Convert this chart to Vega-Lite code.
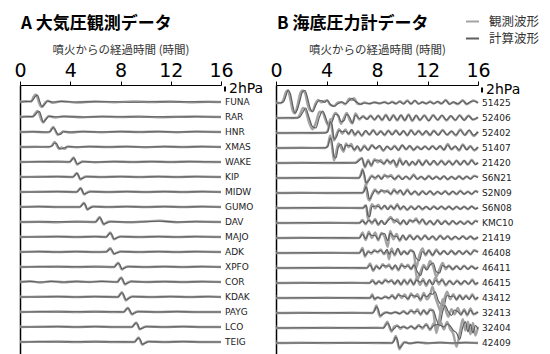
{
"$schema": "https://vega.github.io/schema/vega-lite/v6.json",
"padding": {"left": 13, "top": 14, "right": 5, "bottom": 0},
"config": {"view": {"stroke": null}, "font": "Noto Sans CJK JP"},
"resolve": {"scale": {"color": "shared"}, "legend": {"color": "shared"}},
"spacing": 5,
"datasets": {
"a": [
{"s":"FUNA","t":0,"o":0,"c":0},{"s":"FUNA","t":0.4,"o":0.3,"c":0.1},{"s":"FUNA","t":0.9,"o":0.2,"c":0.3},{"s":"FUNA","t":1.05,"o":1.8,"c":1.0},{"s":"FUNA","t":1.25,"o":3.0,"c":2.4},{"s":"FUNA","t":1.4,"o":1.6,"c":2.8},{"s":"FUNA","t":1.55,"o":-0.8,"c":0.6},{"s":"FUNA","t":1.75,"o":-2.0,"c":-1.8},{"s":"FUNA","t":1.95,"o":-0.6,"c":-1.0},{"s":"FUNA","t":2.2,"o":0.5,"c":0.3},{"s":"FUNA","t":2.6,"o":-0.3,"c":0},{"s":"FUNA","t":3.3,"o":0.3,"c":0.2},{"s":"FUNA","t":4.5,"o":-0.2,"c":0},{"s":"FUNA","t":6,"o":0.2,"c":0.1},{"s":"FUNA","t":7.5,"o":-0.1,"c":0.1},{"s":"FUNA","t":9,"o":0.2,"c":-0.1},{"s":"FUNA","t":10.5,"o":0,"c":0.1},{"s":"FUNA","t":12,"o":0.2,"c":0},{"s":"FUNA","t":13.5,"o":-0.1,"c":0.1},{"s":"FUNA","t":15,"o":0.1,"c":0},{"s":"FUNA","t":16,"o":0,"c":0},
{"s":"RAR","t":0,"o":0,"c":0},{"s":"RAR","t":0.5,"o":0.2,"c":0.1},{"s":"RAR","t":1.0,"o":0.1,"c":0.2},{"s":"RAR","t":1.2,"o":1.4,"c":0.8},{"s":"RAR","t":1.4,"o":2.4,"c":2.0},{"s":"RAR","t":1.55,"o":1.0,"c":2.2},{"s":"RAR","t":1.7,"o":-1.2,"c":0.2},{"s":"RAR","t":1.85,"o":-2.2,"c":-2.0},{"s":"RAR","t":2.05,"o":-0.8,"c":-1.0},{"s":"RAR","t":2.3,"o":0.4,"c":0.2},{"s":"RAR","t":2.8,"o":-0.2,"c":0.1},{"s":"RAR","t":3.5,"o":0.3,"c":0.1},{"s":"RAR","t":5,"o":-0.1,"c":0},{"s":"RAR","t":6.5,"o":0.2,"c":0.1},{"s":"RAR","t":8,"o":0,"c":0.1},{"s":"RAR","t":9.5,"o":0.2,"c":0},{"s":"RAR","t":11,"o":-0.1,"c":0.1},{"s":"RAR","t":12.5,"o":0.1,"c":0},{"s":"RAR","t":14,"o":0.2,"c":0.1},{"s":"RAR","t":16,"o":0,"c":0},
{"s":"HNR","t":0,"o":0,"c":0},{"s":"HNR","t":1,"o":0.1,"c":0.1},{"s":"HNR","t":2,"o":-0.1,"c":0},{"s":"HNR","t":2.35,"o":0,"c":0.1},{"s":"HNR","t":2.5,"o":1.2,"c":0.8},{"s":"HNR","t":2.65,"o":2.0,"c":1.8},{"s":"HNR","t":2.8,"o":0.6,"c":1.0},{"s":"HNR","t":3.0,"o":-1.2,"c":-0.8},{"s":"HNR","t":3.2,"o":-0.6,"c":-1.0},{"s":"HNR","t":3.45,"o":0.2,"c":0.1},{"s":"HNR","t":4,"o":-0.2,"c":0},{"s":"HNR","t":5,"o":0.2,"c":0.1},{"s":"HNR","t":6.5,"o":-0.1,"c":0},{"s":"HNR","t":8,"o":0.2,"c":0.1},{"s":"HNR","t":9.5,"o":0,"c":0},{"s":"HNR","t":11,"o":0.2,"c":0.1},{"s":"HNR","t":12.5,"o":-0.1,"c":0},{"s":"HNR","t":14,"o":0.2,"c":0.1},{"s":"HNR","t":16,"o":0,"c":0},
{"s":"XMAS","t":0,"o":0,"c":0},{"s":"XMAS","t":1.2,"o":0.1,"c":0},{"s":"XMAS","t":2.3,"o":0,"c":0.1},{"s":"XMAS","t":2.55,"o":0.6,"c":0.4},{"s":"XMAS","t":2.75,"o":2.0,"c":1.6},{"s":"XMAS","t":2.9,"o":1.0,"c":1.4},{"s":"XMAS","t":3.1,"o":-0.8,"c":-0.4},{"s":"XMAS","t":3.3,"o":-0.2,"c":-0.8},{"s":"XMAS","t":3.55,"o":-0.7,"c":-0.3},{"s":"XMAS","t":3.8,"o":0.2,"c":0.1},{"s":"XMAS","t":4.5,"o":-0.1,"c":0},{"s":"XMAS","t":5.5,"o":0.2,"c":0.1},{"s":"XMAS","t":7,"o":0,"c":0},{"s":"XMAS","t":8.5,"o":0.2,"c":0.1},{"s":"XMAS","t":10,"o":-0.1,"c":0},{"s":"XMAS","t":11.5,"o":0.2,"c":0.1},{"s":"XMAS","t":13,"o":0,"c":0},{"s":"XMAS","t":14.5,"o":0.2,"c":0.1},{"s":"XMAS","t":16,"o":0,"c":0},
{"s":"WAKE","t":0,"o":0,"c":0},{"s":"WAKE","t":1.5,"o":0.1,"c":0.1},{"s":"WAKE","t":3,"o":0.2,"c":0},{"s":"WAKE","t":3.95,"o":0,"c":0.1},{"s":"WAKE","t":4.12,"o":1.0,"c":0.8},{"s":"WAKE","t":4.27,"o":1.8,"c":1.6},{"s":"WAKE","t":4.4,"o":0.4,"c":0.8},{"s":"WAKE","t":4.55,"o":-1.0,"c":-0.8},{"s":"WAKE","t":4.75,"o":-0.3,"c":-0.5},{"s":"WAKE","t":5.0,"o":0.2,"c":0.1},{"s":"WAKE","t":6,"o":-0.1,"c":0},{"s":"WAKE","t":7.5,"o":0.2,"c":0.1},{"s":"WAKE","t":9,"o":0,"c":0},{"s":"WAKE","t":10.5,"o":0.2,"c":0.1},{"s":"WAKE","t":12,"o":0,"c":0},{"s":"WAKE","t":13.5,"o":0.2,"c":0.1},{"s":"WAKE","t":15,"o":0,"c":0.1},{"s":"WAKE","t":16,"o":0,"c":0},
{"s":"KIP","t":0,"o":0,"c":0},{"s":"KIP","t":1.5,"o":0.1,"c":0},{"s":"KIP","t":3,"o":0.2,"c":0.1},{"s":"KIP","t":4.2,"o":0,"c":0},{"s":"KIP","t":4.38,"o":0.9,"c":0.7},{"s":"KIP","t":4.53,"o":1.6,"c":1.5},{"s":"KIP","t":4.66,"o":0.4,"c":0.7},{"s":"KIP","t":4.8,"o":-1.0,"c":-0.8},{"s":"KIP","t":5.0,"o":-0.3,"c":-0.5},{"s":"KIP","t":5.3,"o":0.2,"c":0.1},{"s":"KIP","t":6.5,"o":0,"c":0},{"s":"KIP","t":8,"o":0.2,"c":0.1},{"s":"KIP","t":9.5,"o":0,"c":0},{"s":"KIP","t":11,"o":0.2,"c":0.1},{"s":"KIP","t":12.5,"o":0,"c":0},{"s":"KIP","t":14,"o":0.2,"c":0.1},{"s":"KIP","t":16,"o":0,"c":0},
{"s":"MIDW","t":0,"o":0,"c":0},{"s":"MIDW","t":1.5,"o":0.1,"c":0},{"s":"MIDW","t":3,"o":0.2,"c":0.1},{"s":"MIDW","t":4.5,"o":0,"c":0},{"s":"MIDW","t":4.68,"o":0.9,"c":0.7},{"s":"MIDW","t":4.83,"o":1.6,"c":1.5},{"s":"MIDW","t":4.95,"o":0.4,"c":0.7},{"s":"MIDW","t":5.1,"o":-1.0,"c":-0.8},{"s":"MIDW","t":5.3,"o":-0.3,"c":-0.5},{"s":"MIDW","t":5.6,"o":0.2,"c":0.1},{"s":"MIDW","t":7,"o":0,"c":0},{"s":"MIDW","t":8.5,"o":0.2,"c":0.1},{"s":"MIDW","t":10,"o":0,"c":0},{"s":"MIDW","t":11.5,"o":0.2,"c":0.1},{"s":"MIDW","t":13,"o":0,"c":0},{"s":"MIDW","t":14.5,"o":0.2,"c":0.1},{"s":"MIDW","t":16,"o":0,"c":0},
{"s":"GUMO","t":0,"o":0,"c":0},{"s":"GUMO","t":1.5,"o":0.2,"c":0.1},{"s":"GUMO","t":3,"o":0,"c":0},{"s":"GUMO","t":4.75,"o":0,"c":0},{"s":"GUMO","t":4.93,"o":0.9,"c":0.7},{"s":"GUMO","t":5.09,"o":1.7,"c":1.5},{"s":"GUMO","t":5.22,"o":0.4,"c":0.8},{"s":"GUMO","t":5.36,"o":-1.1,"c":-0.9},{"s":"GUMO","t":5.55,"o":-0.3,"c":-0.5},{"s":"GUMO","t":5.85,"o":0.2,"c":0.1},{"s":"GUMO","t":7,"o":0,"c":0},{"s":"GUMO","t":8.5,"o":0.2,"c":0.1},{"s":"GUMO","t":10,"o":0,"c":0},{"s":"GUMO","t":11.5,"o":0.2,"c":0.1},{"s":"GUMO","t":13,"o":0,"c":0},{"s":"GUMO","t":14.5,"o":0.2,"c":0.1},{"s":"GUMO","t":16,"o":0,"c":0},
{"s":"DAV","t":0,"o":0,"c":0},{"s":"DAV","t":1.5,"o":0.1,"c":0},{"s":"DAV","t":3,"o":-0.1,"c":0.1},{"s":"DAV","t":4.5,"o":0.2,"c":0},{"s":"DAV","t":6,"o":0,"c":0},{"s":"DAV","t":6.2,"o":1.2,"c":0.9},{"s":"DAV","t":6.34,"o":2.0,"c":1.8},{"s":"DAV","t":6.5,"o":0.4,"c":0.8},{"s":"DAV","t":6.66,"o":-1.0,"c":-0.8},{"s":"DAV","t":6.85,"o":-0.3,"c":-0.5},{"s":"DAV","t":7.2,"o":0.2,"c":0.1},{"s":"DAV","t":8.5,"o":-0.1,"c":0},{"s":"DAV","t":10,"o":0.2,"c":0.1},{"s":"DAV","t":11.1,"o":0.5,"c":0.3},{"s":"DAV","t":12.5,"o":-0.1,"c":0},{"s":"DAV","t":14,"o":0.2,"c":0.1},{"s":"DAV","t":16,"o":0,"c":0},
{"s":"MAJO","t":0,"o":0,"c":0},{"s":"MAJO","t":1.5,"o":0.1,"c":0},{"s":"MAJO","t":3,"o":0.2,"c":0.1},{"s":"MAJO","t":4.5,"o":0,"c":0},{"s":"MAJO","t":6,"o":0.2,"c":0.1},{"s":"MAJO","t":6.85,"o":0,"c":0},{"s":"MAJO","t":7.03,"o":1.0,"c":0.8},{"s":"MAJO","t":7.19,"o":1.8,"c":1.6},{"s":"MAJO","t":7.33,"o":0.4,"c":0.8},{"s":"MAJO","t":7.48,"o":-0.9,"c":-0.8},{"s":"MAJO","t":7.7,"o":-0.3,"c":-0.4},{"s":"MAJO","t":8,"o":0.2,"c":0.1},{"s":"MAJO","t":9.5,"o":0,"c":0},{"s":"MAJO","t":11,"o":0.2,"c":0.1},{"s":"MAJO","t":12.5,"o":0,"c":0},{"s":"MAJO","t":14,"o":0.2,"c":0.1},{"s":"MAJO","t":16,"o":0,"c":0},
{"s":"ADK","t":0,"o":0,"c":0},{"s":"ADK","t":1.5,"o":0.2,"c":0.1},{"s":"ADK","t":3,"o":0,"c":0},{"s":"ADK","t":4.5,"o":0.2,"c":0.1},{"s":"ADK","t":6,"o":0,"c":0},{"s":"ADK","t":6.85,"o":0.1,"c":0},{"s":"ADK","t":7.03,"o":0.9,"c":0.6},{"s":"ADK","t":7.19,"o":1.5,"c":1.3},{"s":"ADK","t":7.33,"o":0.3,"c":0.7},{"s":"ADK","t":7.48,"o":-0.8,"c":-0.7},{"s":"ADK","t":7.7,"o":-0.3,"c":-0.4},{"s":"ADK","t":8,"o":0.2,"c":0.1},{"s":"ADK","t":9.5,"o":0,"c":0},{"s":"ADK","t":11,"o":0.2,"c":0.1},{"s":"ADK","t":12.5,"o":0,"c":0},{"s":"ADK","t":14,"o":0.2,"c":0.1},{"s":"ADK","t":16,"o":0,"c":0},
{"s":"XPFO","t":0,"o":0,"c":0},{"s":"XPFO","t":1.5,"o":0.1,"c":0.1},{"s":"XPFO","t":3,"o":0.2,"c":0},{"s":"XPFO","t":4.5,"o":0,"c":0.1},{"s":"XPFO","t":6,"o":0.2,"c":0},{"s":"XPFO","t":7.5,"o":0,"c":0},{"s":"XPFO","t":7.66,"o":1.0,"c":0.8},{"s":"XPFO","t":7.82,"o":1.7,"c":1.5},{"s":"XPFO","t":7.96,"o":0.4,"c":0.8},{"s":"XPFO","t":8.11,"o":-1.0,"c":-0.8},{"s":"XPFO","t":8.3,"o":-0.3,"c":-0.5},{"s":"XPFO","t":8.6,"o":0.2,"c":0.1},{"s":"XPFO","t":10,"o":0,"c":0},{"s":"XPFO","t":11.5,"o":0.2,"c":0.1},{"s":"XPFO","t":13,"o":0,"c":0},{"s":"XPFO","t":14.5,"o":0.2,"c":0.1},{"s":"XPFO","t":16,"o":0,"c":0},
{"s":"COR","t":0,"o":0,"c":0},{"s":"COR","t":0.8,"o":0.3,"c":0.2},{"s":"COR","t":1.6,"o":-0.2,"c":0},{"s":"COR","t":2.5,"o":0.3,"c":0.2},{"s":"COR","t":3.5,"o":-0.1,"c":0},{"s":"COR","t":4.5,"o":0.3,"c":0.1},{"s":"COR","t":5.5,"o":0,"c":0},{"s":"COR","t":6.5,"o":0.3,"c":0.2},{"s":"COR","t":7.75,"o":0,"c":0},{"s":"COR","t":7.9,"o":1.0,"c":0.8},{"s":"COR","t":8.06,"o":1.8,"c":1.6},{"s":"COR","t":8.2,"o":0.4,"c":0.8},{"s":"COR","t":8.35,"o":-1.0,"c":-0.8},{"s":"COR","t":8.55,"o":-0.3,"c":-0.5},{"s":"COR","t":8.85,"o":0.3,"c":0.1},{"s":"COR","t":10,"o":0,"c":0},{"s":"COR","t":11.5,"o":0.2,"c":0.1},{"s":"COR","t":13,"o":0,"c":0},{"s":"COR","t":14.5,"o":0.2,"c":0.1},{"s":"COR","t":16,"o":0,"c":0},
{"s":"KDAK","t":0,"o":0,"c":0},{"s":"KDAK","t":1.5,"o":0.1,"c":0},{"s":"KDAK","t":3,"o":0.2,"c":0.1},{"s":"KDAK","t":4.5,"o":0,"c":0},{"s":"KDAK","t":6,"o":0.2,"c":0.1},{"s":"KDAK","t":7.8,"o":0,"c":0},{"s":"KDAK","t":7.95,"o":1.0,"c":0.8},{"s":"KDAK","t":8.11,"o":1.9,"c":1.7},{"s":"KDAK","t":8.25,"o":0.5,"c":0.9},{"s":"KDAK","t":8.43,"o":-1.4,"c":-1.1},{"s":"KDAK","t":8.65,"o":-0.4,"c":-0.6},{"s":"KDAK","t":8.95,"o":0.2,"c":0.1},{"s":"KDAK","t":10.5,"o":0,"c":0},{"s":"KDAK","t":12,"o":0.2,"c":0.1},{"s":"KDAK","t":13.5,"o":0,"c":0},{"s":"KDAK","t":15,"o":0.2,"c":0.1},{"s":"KDAK","t":16,"o":0,"c":0},
{"s":"PAYG","t":0,"o":0,"c":0},{"s":"PAYG","t":1.5,"o":0.1,"c":0.1},{"s":"PAYG","t":3,"o":0.2,"c":0},{"s":"PAYG","t":4.5,"o":0,"c":0.1},{"s":"PAYG","t":6,"o":0.2,"c":0},{"s":"PAYG","t":7.5,"o":0,"c":0.1},{"s":"PAYG","t":8.25,"o":0,"c":0},{"s":"PAYG","t":8.43,"o":1.0,"c":0.8},{"s":"PAYG","t":8.59,"o":1.7,"c":1.5},{"s":"PAYG","t":8.73,"o":0.4,"c":0.8},{"s":"PAYG","t":8.91,"o":-1.0,"c":-0.8},{"s":"PAYG","t":9.1,"o":-0.3,"c":-0.5},{"s":"PAYG","t":9.4,"o":0.2,"c":0.1},{"s":"PAYG","t":11,"o":0,"c":0},{"s":"PAYG","t":12.5,"o":0.2,"c":0.1},{"s":"PAYG","t":14,"o":0,"c":0},{"s":"PAYG","t":16,"o":0,"c":0},
{"s":"LCO","t":0,"o":0,"c":0},{"s":"LCO","t":1.5,"o":0.1,"c":0},{"s":"LCO","t":3,"o":0.2,"c":0.1},{"s":"LCO","t":4.5,"o":0,"c":0},{"s":"LCO","t":6,"o":0.2,"c":0.1},{"s":"LCO","t":7.5,"o":0,"c":0},{"s":"LCO","t":8.9,"o":0,"c":0},{"s":"LCO","t":9.08,"o":1.0,"c":0.8},{"s":"LCO","t":9.25,"o":1.8,"c":1.6},{"s":"LCO","t":9.38,"o":0.6,"c":1.0},{"s":"LCO","t":9.52,"o":-0.9,"c":-0.8},{"s":"LCO","t":9.75,"o":-0.3,"c":-0.5},{"s":"LCO","t":10.05,"o":0.2,"c":0.1},{"s":"LCO","t":11.5,"o":0,"c":0},{"s":"LCO","t":13,"o":0.2,"c":0.1},{"s":"LCO","t":14.5,"o":0,"c":0},{"s":"LCO","t":16,"o":0,"c":0},
{"s":"TEIG","t":0,"o":0,"c":0},{"s":"TEIG","t":1.5,"o":0.1,"c":0.1},{"s":"TEIG","t":3,"o":0.2,"c":0},{"s":"TEIG","t":4.5,"o":0,"c":0.1},{"s":"TEIG","t":6,"o":0.2,"c":0},{"s":"TEIG","t":7.5,"o":0,"c":0.1},{"s":"TEIG","t":9.1,"o":0,"c":0},{"s":"TEIG","t":9.28,"o":1.0,"c":0.8},{"s":"TEIG","t":9.44,"o":1.8,"c":1.6},{"s":"TEIG","t":9.57,"o":0.6,"c":1.0},{"s":"TEIG","t":9.73,"o":-1.1,"c":-0.9},{"s":"TEIG","t":9.95,"o":-0.3,"c":-0.5},{"s":"TEIG","t":10.25,"o":0.2,"c":0.1},{"s":"TEIG","t":11.5,"o":0,"c":0},{"s":"TEIG","t":13,"o":0.2,"c":0.1},{"s":"TEIG","t":14.5,"o":0,"c":0},{"s":"TEIG","t":16,"o":0,"c":0},
{"s":"_"}
],
"b": [
{"s":"51425","t":0,"o":0,"c":0},{"s":"51425","t":0.4,"o":0,"c":0.1},{"s":"51425","t":0.6,"o":1.5,"c":0.5},{"s":"51425","t":0.8,"o":4.5,"c":3.0},{"s":"51425","t":0.95,"o":5.0,"c":5.2},{"s":"51425","t":1.15,"o":1.0,"c":3.5},{"s":"51425","t":1.35,"o":-3.5,"c":-1.5},{"s":"51425","t":1.5,"o":-4.2,"c":-4.0},{"s":"51425","t":1.7,"o":-1.0,"c":-2.5},{"s":"51425","t":1.9,"o":3.5,"c":1.0},{"s":"51425","t":2.1,"o":5.0,"c":4.5},{"s":"51425","t":2.3,"o":4.0,"c":5.0},{"s":"51425","t":2.5,"o":-0.5,"c":2.0},{"s":"51425","t":2.7,"o":-3.0,"c":-2.0},{"s":"51425","t":2.9,"o":-3.2,"c":-3.5},{"s":"51425","t":3.1,"o":-0.5,"c":-1.5},{"s":"51425","t":3.35,"o":1.2,"c":0.8},{"s":"51425","t":3.6,"o":0.3,"c":1.0},{"s":"51425","t":3.85,"o":0.8,"c":0.2},{"s":"51425","t":4.05,"o":1.0,"c":1.2},{"s":"51425","t":4.3,"o":-0.8,"c":-0.5},{"s":"51425","t":4.6,"o":-1.2,"c":-1.3},{"s":"51425","t":4.9,"o":0.2,"c":-0.3},{"s":"51425","t":5.2,"o":0.3,"c":0.4},{"s":"51425","t":5.5,"o":-0.5,"c":-0.3},{"s":"51425","t":5.8,"o":1.8,"c":1.0},{"s":"51425","t":6.0,"o":1.2,"c":1.9},{"s":"51425","t":6.2,"o":1.9,"c":1.0},{"s":"51425","t":6.45,"o":-0.3,"c":0.2},{"s":"51425","t":6.7,"o":-0.4,"c":-0.5},{"s":"51425","t":7.0,"o":0.2,"c":0},{"s":"51425","t":7.4,"o":-0.3,"c":-0.2},{"s":"51425","t":7.8,"o":0.3,"c":0.2},{"s":"51425","t":8.2,"o":-0.2,"c":-0.1},{"s":"51425","t":8.6,"o":0.4,"c":0.3},{"s":"51425","t":8.9,"o":-0.2,"c":-0.3},{"s":"51425","t":9.2,"o":0.5,"c":0.3},{"s":"51425","t":9.5,"o":-0.3,"c":-0.2},{"s":"51425","t":9.8,"o":0.7,"c":0.5},{"s":"51425","t":10.1,"o":-0.2,"c":-0.4},{"s":"51425","t":10.4,"o":1.0,"c":0.8},{"s":"51425","t":10.7,"o":-0.4,"c":-0.3},{"s":"51425","t":11.0,"o":0.9,"c":1.0},{"s":"51425","t":11.3,"o":-0.3,"c":-0.4},{"s":"51425","t":11.6,"o":0.4,"c":0.3},{"s":"51425","t":11.9,"o":-0.3,"c":-0.2},{"s":"51425","t":12.2,"o":0.6,"c":0.4},{"s":"51425","t":12.5,"o":-0.2,"c":-0.3},{"s":"51425","t":12.8,"o":0.5,"c":0.6},{"s":"51425","t":13.1,"o":-0.3,"c":-0.2},{"s":"51425","t":13.45,"o":1.2,"c":1.0},{"s":"51425","t":13.75,"o":-0.4,"c":-0.5},{"s":"51425","t":14.05,"o":0.3,"c":0.4},{"s":"51425","t":14.4,"o":-0.5,"c":-0.3},{"s":"51425","t":14.8,"o":1.1,"c":0.9},{"s":"51425","t":15.1,"o":-0.5,"c":-0.4},{"s":"51425","t":15.4,"o":0.3,"c":0.5},{"s":"51425","t":15.65,"o":1.0,"c":0.8},{"s":"51425","t":16,"o":0,"c":0.1},
{"s":"52406","t":0,"o":0,"c":0},{"s":"52406","t":1.0,"o":0,"c":0.1},{"s":"52406","t":1.7,"o":0.1,"c":0},{"s":"52406","t":1.9,"o":1.5,"c":0.5},{"s":"52406","t":2.15,"o":4.0,"c":2.5},{"s":"52406","t":2.35,"o":3.0,"c":4.0},{"s":"52406","t":2.6,"o":-1.5,"c":0.5},{"s":"52406","t":2.9,"o":-4.5,"c":-3.5},{"s":"52406","t":3.15,"o":-2.0,"c":-4.0},{"s":"52406","t":3.45,"o":2.5,"c":0.5},{"s":"52406","t":3.7,"o":2.2,"c":2.8},{"s":"52406","t":3.9,"o":-0.5,"c":0.8},{"s":"52406","t":4.15,"o":-3.0,"c":-2.5},{"s":"52406","t":4.4,"o":-1.0,"c":-2.0},{"s":"52406","t":4.7,"o":2.0,"c":1.5},{"s":"52406","t":4.95,"o":0.5,"c":1.0},{"s":"52406","t":5.15,"o":-2.3,"c":-1.5},{"s":"52406","t":5.4,"o":0.3,"c":-1.0},{"s":"52406","t":5.6,"o":2.0,"c":1.5},{"s":"52406","t":5.85,"o":-1.0,"c":0.2},{"s":"52406","t":6.05,"o":-2.2,"c":-2.0},{"s":"52406","t":6.3,"o":1.8,"c":1.2},{"s":"52406","t":6.6,"o":-0.6,"c":-0.2},{"s":"52406","t":6.9,"o":0.8,"c":0.5},{"s":"52406","t":7.2,"o":-0.4,"c":-0.5},{"s":"52406","t":7.5,"o":1.0,"c":0.8},{"s":"52406","t":7.8,"o":-0.8,"c":-0.6},{"s":"52406","t":8.1,"o":1.0,"c":0.9},{"s":"52406","t":8.4,"o":-0.9,"c":-0.7},{"s":"52406","t":8.7,"o":1.3,"c":1.1},{"s":"52406","t":9.0,"o":-0.9,"c":-1.0},{"s":"52406","t":9.3,"o":1.2,"c":1.0},{"s":"52406","t":9.6,"o":-1.0,"c":-0.8},{"s":"52406","t":9.9,"o":1.1,"c":1.2},{"s":"52406","t":10.2,"o":-1.0,"c":-0.9},{"s":"52406","t":10.5,"o":1.4,"c":1.2},{"s":"52406","t":10.8,"o":-1.2,"c":-1.0},{"s":"52406","t":11.1,"o":1.0,"c":1.1},{"s":"52406","t":11.4,"o":-0.9,"c":-0.8},{"s":"52406","t":11.75,"o":1.1,"c":0.9},{"s":"52406","t":12.1,"o":-1.0,"c":-1.1},{"s":"52406","t":12.45,"o":1.2,"c":1.0},{"s":"52406","t":12.8,"o":-0.8,"c":-0.7},{"s":"52406","t":13.15,"o":1.0,"c":1.1},{"s":"52406","t":13.5,"o":-1.0,"c":-0.8},{"s":"52406","t":13.85,"o":0.8,"c":0.9},{"s":"52406","t":14.2,"o":-0.9,"c":-0.8},{"s":"52406","t":14.55,"o":1.1,"c":1.0},{"s":"52406","t":14.9,"o":-0.8,"c":-0.9},{"s":"52406","t":15.25,"o":1.0,"c":0.8},{"s":"52406","t":15.6,"o":-0.7,"c":-0.6},{"s":"52406","t":16,"o":0.3,"c":0.2},
{"s":"52402","t":0,"o":0,"c":0},{"s":"52402","t":2,"o":0,"c":0.1},{"s":"52402","t":3.9,"o":0.1,"c":0},{"s":"52402","t":4.1,"o":1.0,"c":0.5},{"s":"52402","t":4.3,"o":5.5,"c":4.5},{"s":"52402","t":4.45,"o":1.0,"c":3.0},{"s":"52402","t":4.6,"o":-3.0,"c":-2.5},{"s":"52402","t":4.8,"o":-0.5,"c":-1.5},{"s":"52402","t":5.0,"o":1.5,"c":1.0},{"s":"52402","t":5.25,"o":-0.3,"c":0.5},{"s":"52402","t":5.5,"o":1.4,"c":0.8},{"s":"52402","t":5.75,"o":-0.5,"c":-0.3},{"s":"52402","t":6.0,"o":1.2,"c":1.4},{"s":"52402","t":6.25,"o":-1.0,"c":-0.6},{"s":"52402","t":6.5,"o":0.8,"c":0.5},{"s":"52402","t":6.8,"o":-1.2,"c":-0.9},{"s":"52402","t":7.1,"o":0.8,"c":1.0},{"s":"52402","t":7.4,"o":-0.7,"c":-0.6},{"s":"52402","t":7.7,"o":1.2,"c":1.0},{"s":"52402","t":8.0,"o":-0.6,"c":-0.8},{"s":"52402","t":8.3,"o":0.8,"c":0.6},{"s":"52402","t":8.6,"o":-0.9,"c":-0.7},{"s":"52402","t":8.9,"o":1.0,"c":0.9},{"s":"52402","t":9.2,"o":-0.6,"c":-0.7},{"s":"52402","t":9.5,"o":1.1,"c":0.9},{"s":"52402","t":9.8,"o":-0.7,"c":-0.8},{"s":"52402","t":10.1,"o":0.8,"c":0.9},{"s":"52402","t":10.4,"o":-1.0,"c":-0.9},{"s":"52402","t":10.7,"o":1.2,"c":1.0},{"s":"52402","t":11.0,"o":-0.6,"c":-0.8},{"s":"52402","t":11.3,"o":0.9,"c":0.8},{"s":"52402","t":11.6,"o":-0.8,"c":-0.6},{"s":"52402","t":11.9,"o":0.7,"c":0.9},{"s":"52402","t":12.2,"o":-0.9,"c":-0.8},{"s":"52402","t":12.5,"o":1.0,"c":0.8},{"s":"52402","t":12.85,"o":-0.7,"c":-0.9},{"s":"52402","t":13.2,"o":1.2,"c":1.0},{"s":"52402","t":13.55,"o":-0.8,"c":-0.7},{"s":"52402","t":13.9,"o":0.6,"c":0.8},{"s":"52402","t":14.25,"o":-1.0,"c":-0.8},{"s":"52402","t":14.6,"o":1.4,"c":1.1},{"s":"52402","t":14.95,"o":-0.8,"c":-0.9},{"s":"52402","t":15.3,"o":1.0,"c":1.2},{"s":"52402","t":15.65,"o":-1.2,"c":-0.9},{"s":"52402","t":16,"o":0.6,"c":0.4},
{"s":"51407","t":0,"o":0,"c":0},{"s":"51407","t":2,"o":0.1,"c":0},{"s":"51407","t":3.9,"o":0,"c":0.1},{"s":"51407","t":4.1,"o":1.0,"c":0.6},{"s":"51407","t":4.3,"o":5.0,"c":4.0},{"s":"51407","t":4.45,"o":0,"c":2.0},{"s":"51407","t":4.6,"o":-5.0,"c":-3.5},{"s":"51407","t":4.75,"o":-2.0,"c":-4.0},{"s":"51407","t":4.95,"o":1.8,"c":0.5},{"s":"51407","t":5.15,"o":0.2,"c":1.5},{"s":"51407","t":5.35,"o":-1.5,"c":-0.8},{"s":"51407","t":5.55,"o":1.8,"c":1.2},{"s":"51407","t":5.75,"o":0.3,"c":1.0},{"s":"51407","t":5.95,"o":1.6,"c":0.8},{"s":"51407","t":6.2,"o":-1.0,"c":-0.6},{"s":"51407","t":6.45,"o":0.5,"c":0.9},{"s":"51407","t":6.7,"o":-1.2,"c":-1.0},{"s":"51407","t":7.0,"o":1.0,"c":0.6},{"s":"51407","t":7.3,"o":-0.8,"c":-0.9},{"s":"51407","t":7.6,"o":1.2,"c":1.0},{"s":"51407","t":7.9,"o":-0.3,"c":-0.2},{"s":"51407","t":8.2,"o":0.8,"c":1.0},{"s":"51407","t":8.5,"o":-1.2,"c":-0.9},{"s":"51407","t":8.8,"o":0.6,"c":0.7},{"s":"51407","t":9.1,"o":-0.5,"c":-0.7},{"s":"51407","t":9.4,"o":0.9,"c":0.6},{"s":"51407","t":9.7,"o":-0.8,"c":-0.9},{"s":"51407","t":10.0,"o":1.1,"c":1.2},{"s":"51407","t":10.3,"o":-0.6,"c":-0.5},{"s":"51407","t":10.6,"o":0.8,"c":0.9},{"s":"51407","t":10.9,"o":-0.9,"c":-0.7},{"s":"51407","t":11.2,"o":0.6,"c":0.5},{"s":"51407","t":11.5,"o":-0.5,"c":-0.6},{"s":"51407","t":11.8,"o":0.7,"c":0.6},{"s":"51407","t":12.1,"o":-0.6,"c":-0.5},{"s":"51407","t":12.4,"o":0.8,"c":0.7},{"s":"51407","t":12.7,"o":-0.5,"c":-0.6},{"s":"51407","t":13.0,"o":0.7,"c":0.9},{"s":"51407","t":13.3,"o":-0.8,"c":-0.7},{"s":"51407","t":13.6,"o":1.6,"c":1.2},{"s":"51407","t":13.9,"o":-0.6,"c":-0.5},{"s":"51407","t":14.2,"o":0.6,"c":0.8},{"s":"51407","t":14.5,"o":-1.0,"c":-0.8},{"s":"51407","t":14.8,"o":1.4,"c":1.2},{"s":"51407","t":15.1,"o":-0.6,"c":-0.7},{"s":"51407","t":15.4,"o":0.8,"c":0.6},{"s":"51407","t":15.7,"o":-1.0,"c":-0.8},{"s":"51407","t":16,"o":0.4,"c":0.3},
{"s":"21420","t":0,"o":0,"c":0},{"s":"21420","t":2,"o":0.1,"c":0},{"s":"21420","t":4,"o":0,"c":0.1},{"s":"21420","t":6.3,"o":0.1,"c":0},{"s":"21420","t":6.55,"o":1.2,"c":0.8},{"s":"21420","t":6.8,"o":2.0,"c":1.8},{"s":"21420","t":7.05,"o":-1.8,"c":-1.4},{"s":"21420","t":7.3,"o":1.2,"c":0.8},{"s":"21420","t":7.55,"o":-1.2,"c":-0.8},{"s":"21420","t":7.8,"o":1.5,"c":1.0},{"s":"21420","t":8.05,"o":0.3,"c":1.2},{"s":"21420","t":8.3,"o":1.2,"c":0.4},{"s":"21420","t":8.55,"o":-0.5,"c":-0.2},{"s":"21420","t":8.8,"o":1.4,"c":1.1},{"s":"21420","t":9.05,"o":-0.3,"c":0.2},{"s":"21420","t":9.3,"o":1.0,"c":1.2},{"s":"21420","t":9.55,"o":-1.5,"c":-1.0},{"s":"21420","t":9.8,"o":1.8,"c":1.2},{"s":"21420","t":10.05,"o":-0.6,"c":-0.8},{"s":"21420","t":10.3,"o":0.8,"c":1.0},{"s":"21420","t":10.55,"o":-1.0,"c":-0.8},{"s":"21420","t":10.8,"o":0.5,"c":0.6},{"s":"21420","t":11.05,"o":-0.8,"c":-0.6},{"s":"21420","t":11.3,"o":1.2,"c":0.9},{"s":"21420","t":11.6,"o":-0.9,"c":-0.8},{"s":"21420","t":11.9,"o":1.1,"c":0.9},{"s":"21420","t":12.2,"o":-0.7,"c":-0.8},{"s":"21420","t":12.5,"o":0.8,"c":1.0},{"s":"21420","t":12.8,"o":-0.8,"c":-0.6},{"s":"21420","t":13.1,"o":1.0,"c":0.8},{"s":"21420","t":13.4,"o":-0.6,"c":-0.8},{"s":"21420","t":13.7,"o":0.9,"c":0.7},{"s":"21420","t":14.0,"o":-0.8,"c":-0.6},{"s":"21420","t":14.3,"o":1.0,"c":0.9},{"s":"21420","t":14.6,"o":-0.6,"c":-0.8},{"s":"21420","t":14.9,"o":0.9,"c":1.0},{"s":"21420","t":15.2,"o":-0.7,"c":-0.6},{"s":"21420","t":15.5,"o":1.3,"c":1.0},{"s":"21420","t":15.8,"o":-0.5,"c":-0.6},{"s":"21420","t":16,"o":0.2,"c":0.1},
{"s":"S6N21","t":0,"o":0,"c":0},{"s":"S6N21","t":2,"o":0,"c":0.1},{"s":"S6N21","t":4,"o":0.1,"c":0},{"s":"S6N21","t":6.55,"o":0,"c":0},{"s":"S6N21","t":6.72,"o":1.5,"c":1.0},{"s":"S6N21","t":6.85,"o":3.5,"c":3.2},{"s":"S6N21","t":7.0,"o":0.5,"c":1.5},{"s":"S6N21","t":7.15,"o":-2.5,"c":-2.0},{"s":"S6N21","t":7.35,"o":-0.5,"c":-1.0},{"s":"S6N21","t":7.6,"o":1.0,"c":0.6},{"s":"S6N21","t":7.85,"o":-0.4,"c":0.2},{"s":"S6N21","t":8.1,"o":1.0,"c":0.9},{"s":"S6N21","t":8.35,"o":-0.3,"c":-0.5},{"s":"S6N21","t":8.6,"o":1.3,"c":0.8},{"s":"S6N21","t":8.85,"o":0.2,"c":0.8},{"s":"S6N21","t":9.1,"o":1.2,"c":0.6},{"s":"S6N21","t":9.4,"o":-0.6,"c":-0.4},{"s":"S6N21","t":9.7,"o":1.0,"c":0.8},{"s":"S6N21","t":10.0,"o":-0.4,"c":-0.6},{"s":"S6N21","t":10.3,"o":0.6,"c":0.7},{"s":"S6N21","t":10.6,"o":-0.5,"c":-0.4},{"s":"S6N21","t":10.9,"o":1.4,"c":1.0},{"s":"S6N21","t":11.2,"o":-0.4,"c":-0.5},{"s":"S6N21","t":11.5,"o":0.5,"c":0.6},{"s":"S6N21","t":11.8,"o":-0.6,"c":-0.5},{"s":"S6N21","t":12.1,"o":0.9,"c":0.7},{"s":"S6N21","t":12.4,"o":-0.4,"c":-0.5},{"s":"S6N21","t":12.7,"o":0.6,"c":0.5},{"s":"S6N21","t":13.0,"o":-0.5,"c":-0.4},{"s":"S6N21","t":13.3,"o":0.7,"c":0.8},{"s":"S6N21","t":13.6,"o":-0.6,"c":-0.5},{"s":"S6N21","t":13.9,"o":0.5,"c":0.6},{"s":"S6N21","t":14.2,"o":-0.4,"c":-0.5},{"s":"S6N21","t":14.5,"o":0.8,"c":0.6},{"s":"S6N21","t":14.8,"o":-0.5,"c":-0.4},{"s":"S6N21","t":15.1,"o":0.6,"c":0.7},{"s":"S6N21","t":15.4,"o":-0.3,"c":-0.4},{"s":"S6N21","t":15.7,"o":0.9,"c":0.7},{"s":"S6N21","t":16,"o":0.3,"c":0.2},
{"s":"S2N09","t":0,"o":0,"c":0},{"s":"S2N09","t":2,"o":0.1,"c":0},{"s":"S2N09","t":4,"o":0,"c":0},{"s":"S2N09","t":6.85,"o":0,"c":0.1},{"s":"S2N09","t":7.0,"o":1.5,"c":0.8},{"s":"S2N09","t":7.12,"o":3.5,"c":2.5},{"s":"S2N09","t":7.25,"o":-1.5,"c":1.0},{"s":"S2N09","t":7.4,"o":-3.0,"c":-2.5},{"s":"S2N09","t":7.6,"o":-0.5,"c":-1.0},{"s":"S2N09","t":7.85,"o":1.4,"c":1.0},{"s":"S2N09","t":8.1,"o":-0.3,"c":0.3},{"s":"S2N09","t":8.35,"o":1.2,"c":0.8},{"s":"S2N09","t":8.6,"o":0.2,"c":0.9},{"s":"S2N09","t":8.85,"o":1.0,"c":0.4},{"s":"S2N09","t":9.1,"o":-0.6,"c":-0.3},{"s":"S2N09","t":9.35,"o":1.5,"c":1.0},{"s":"S2N09","t":9.6,"o":-0.3,"c":0.2},{"s":"S2N09","t":9.85,"o":1.0,"c":1.2},{"s":"S2N09","t":10.1,"o":-0.8,"c":-0.6},{"s":"S2N09","t":10.4,"o":1.4,"c":1.0},{"s":"S2N09","t":10.7,"o":-0.6,"c":-0.5},{"s":"S2N09","t":11.0,"o":0.6,"c":0.8},{"s":"S2N09","t":11.3,"o":-0.8,"c":-0.6},{"s":"S2N09","t":11.6,"o":0.8,"c":0.6},{"s":"S2N09","t":11.9,"o":-0.5,"c":-0.6},{"s":"S2N09","t":12.2,"o":0.7,"c":0.8},{"s":"S2N09","t":12.5,"o":-0.7,"c":-0.5},{"s":"S2N09","t":12.8,"o":0.5,"c":0.6},{"s":"S2N09","t":13.1,"o":-0.4,"c":-0.5},{"s":"S2N09","t":13.4,"o":0.8,"c":0.6},{"s":"S2N09","t":13.7,"o":-0.6,"c":-0.5},{"s":"S2N09","t":14.0,"o":0.6,"c":0.7},{"s":"S2N09","t":14.3,"o":-0.5,"c":-0.4},{"s":"S2N09","t":14.6,"o":0.9,"c":0.7},{"s":"S2N09","t":14.9,"o":-0.4,"c":-0.5},{"s":"S2N09","t":15.2,"o":0.6,"c":0.5},{"s":"S2N09","t":15.5,"o":-0.5,"c":-0.4},{"s":"S2N09","t":15.8,"o":0.8,"c":0.7},{"s":"S2N09","t":16,"o":0.3,"c":0.2},
{"s":"S6N08","t":0,"o":0,"c":0},{"s":"S6N08","t":2,"o":0,"c":0.1},{"s":"S6N08","t":4,"o":0.1,"c":0},{"s":"S6N08","t":6.9,"o":0,"c":0},{"s":"S6N08","t":7.05,"o":1.0,"c":0.6},{"s":"S6N08","t":7.15,"o":0.5,"c":1.2},{"s":"S6N08","t":7.28,"o":-4.5,"c":-3.0},{"s":"S6N08","t":7.42,"o":-1.5,"c":-3.5},{"s":"S6N08","t":7.6,"o":1.5,"c":0.5},{"s":"S6N08","t":7.85,"o":-0.2,"c":0.8},{"s":"S6N08","t":8.1,"o":1.3,"c":0.6},{"s":"S6N08","t":8.35,"o":-0.5,"c":-0.2},{"s":"S6N08","t":8.6,"o":0.9,"c":1.0},{"s":"S6N08","t":8.85,"o":-0.4,"c":-0.6},{"s":"S6N08","t":9.1,"o":1.0,"c":0.7},{"s":"S6N08","t":9.35,"o":-0.6,"c":-0.3},{"s":"S6N08","t":9.6,"o":1.6,"c":1.1},{"s":"S6N08","t":9.85,"o":-0.6,"c":-0.4},{"s":"S6N08","t":10.1,"o":0.6,"c":0.8},{"s":"S6N08","t":10.4,"o":-0.8,"c":-0.6},{"s":"S6N08","t":10.7,"o":0.7,"c":0.5},{"s":"S6N08","t":11.0,"o":-0.5,"c":-0.6},{"s":"S6N08","t":11.3,"o":0.8,"c":0.7},{"s":"S6N08","t":11.6,"o":-0.6,"c":-0.4},{"s":"S6N08","t":11.9,"o":0.5,"c":0.6},{"s":"S6N08","t":12.2,"o":-0.5,"c":-0.6},{"s":"S6N08","t":12.5,"o":0.7,"c":0.5},{"s":"S6N08","t":12.8,"o":-0.4,"c":-0.5},{"s":"S6N08","t":13.1,"o":0.6,"c":0.7},{"s":"S6N08","t":13.4,"o":-0.5,"c":-0.4},{"s":"S6N08","t":13.7,"o":0.7,"c":0.5},{"s":"S6N08","t":14.0,"o":-0.6,"c":-0.5},{"s":"S6N08","t":14.3,"o":0.5,"c":0.6},{"s":"S6N08","t":14.6,"o":-0.4,"c":-0.5},{"s":"S6N08","t":14.9,"o":0.6,"c":0.5},{"s":"S6N08","t":15.2,"o":-0.5,"c":-0.4},{"s":"S6N08","t":15.5,"o":0.7,"c":0.6},{"s":"S6N08","t":15.8,"o":-0.3,"c":-0.4},{"s":"S6N08","t":16,"o":0.2,"c":0.1},
{"s":"KMC10","t":0,"o":0,"c":0},{"s":"KMC10","t":2,"o":0,"c":0.1},{"s":"KMC10","t":4,"o":0.1,"c":0},{"s":"KMC10","t":6.6,"o":0,"c":0},{"s":"KMC10","t":6.85,"o":1.2,"c":0.8},{"s":"KMC10","t":7.1,"o":-0.5,"c":-0.2},{"s":"KMC10","t":7.35,"o":1.4,"c":1.0},{"s":"KMC10","t":7.6,"o":-0.3,"c":0.3},{"s":"KMC10","t":7.85,"o":1.6,"c":1.2},{"s":"KMC10","t":8.1,"o":-0.8,"c":-0.5},{"s":"KMC10","t":8.35,"o":0.8,"c":1.0},{"s":"KMC10","t":8.6,"o":-0.4,"c":-0.6},{"s":"KMC10","t":8.85,"o":1.2,"c":0.8},{"s":"KMC10","t":9.1,"o":2.4,"c":1.8},{"s":"KMC10","t":9.35,"o":0.2,"c":1.2},{"s":"KMC10","t":9.6,"o":1.5,"c":0.5},{"s":"KMC10","t":9.85,"o":-0.6,"c":-0.3},{"s":"KMC10","t":10.1,"o":1.0,"c":1.2},{"s":"KMC10","t":10.35,"o":-0.5,"c":-0.6},{"s":"KMC10","t":10.6,"o":1.3,"c":0.9},{"s":"KMC10","t":10.85,"o":0.3,"c":0.8},{"s":"KMC10","t":11.1,"o":1.8,"c":1.2},{"s":"KMC10","t":11.35,"o":-0.3,"c":0.2},{"s":"KMC10","t":11.6,"o":1.5,"c":1.4},{"s":"KMC10","t":11.9,"o":-0.6,"c":-0.5},{"s":"KMC10","t":12.2,"o":0.8,"c":0.9},{"s":"KMC10","t":12.5,"o":-0.7,"c":-0.6},{"s":"KMC10","t":12.8,"o":1.2,"c":1.0},{"s":"KMC10","t":13.1,"o":-0.4,"c":-0.6},{"s":"KMC10","t":13.4,"o":0.9,"c":0.7},{"s":"KMC10","t":13.7,"o":-0.6,"c":-0.5},{"s":"KMC10","t":14.0,"o":0.8,"c":0.9},{"s":"KMC10","t":14.3,"o":-0.5,"c":-0.4},{"s":"KMC10","t":14.6,"o":0.7,"c":0.6},{"s":"KMC10","t":14.9,"o":-0.4,"c":-0.5},{"s":"KMC10","t":15.2,"o":0.8,"c":0.6},{"s":"KMC10","t":15.5,"o":-0.5,"c":-0.4},{"s":"KMC10","t":15.8,"o":0.9,"c":0.7},{"s":"KMC10","t":16,"o":0.5,"c":0.4},
{"s":"21419","t":0,"o":0,"c":0},{"s":"21419","t":2,"o":0.1,"c":0},{"s":"21419","t":4,"o":0,"c":0.1},{"s":"21419","t":6.6,"o":0,"c":0},{"s":"21419","t":6.85,"o":2.2,"c":1.5},{"s":"21419","t":7.1,"o":-0.8,"c":-0.3},{"s":"21419","t":7.35,"o":2.5,"c":1.8},{"s":"21419","t":7.6,"o":0.0,"c":1.0},{"s":"21419","t":7.85,"o":2.2,"c":1.0},{"s":"21419","t":8.1,"o":-1.0,"c":-0.5},{"s":"21419","t":8.35,"o":2.0,"c":1.6},{"s":"21419","t":8.6,"o":0.5,"c":1.8},{"s":"21419","t":8.85,"o":-3.5,"c":-1.0},{"s":"21419","t":9.05,"o":2.8,"c":2.0},{"s":"21419","t":9.3,"o":-0.5,"c":0.8},{"s":"21419","t":9.55,"o":1.6,"c":0.6},{"s":"21419","t":9.8,"o":-1.2,"c":-0.8},{"s":"21419","t":10.05,"o":1.0,"c":1.2},{"s":"21419","t":10.3,"o":-0.8,"c":-0.6},{"s":"21419","t":10.6,"o":1.2,"c":0.9},{"s":"21419","t":10.9,"o":-0.5,"c":-0.7},{"s":"21419","t":11.2,"o":0.9,"c":0.8},{"s":"21419","t":11.5,"o":-0.7,"c":-0.5},{"s":"21419","t":11.8,"o":1.1,"c":0.9},{"s":"21419","t":12.1,"o":-0.5,"c":-0.6},{"s":"21419","t":12.4,"o":0.6,"c":0.8},{"s":"21419","t":12.7,"o":-0.8,"c":-0.6},{"s":"21419","t":13.0,"o":1.0,"c":0.8},{"s":"21419","t":13.3,"o":-0.4,"c":-0.5},{"s":"21419","t":13.6,"o":0.8,"c":0.6},{"s":"21419","t":13.9,"o":-0.6,"c":-0.5},{"s":"21419","t":14.2,"o":0.5,"c":0.7},{"s":"21419","t":14.5,"o":-0.5,"c":-0.4},{"s":"21419","t":14.8,"o":0.8,"c":0.6},{"s":"21419","t":15.1,"o":-0.4,"c":-0.5},{"s":"21419","t":15.4,"o":0.7,"c":0.6},{"s":"21419","t":15.7,"o":-0.5,"c":-0.4},{"s":"21419","t":16,"o":0.4,"c":0.3},
{"s":"46408","t":0,"o":0,"c":0},{"s":"46408","t":2,"o":0,"c":0.1},{"s":"46408","t":4,"o":0.1,"c":0},{"s":"46408","t":6.6,"o":0,"c":0},{"s":"46408","t":6.85,"o":2.0,"c":1.5},{"s":"46408","t":7.05,"o":-1.5,"c":-1.0},{"s":"46408","t":7.3,"o":0.8,"c":0.4},{"s":"46408","t":7.55,"o":-0.3,"c":0.2},{"s":"46408","t":7.8,"o":1.2,"c":0.8},{"s":"46408","t":8.05,"o":0.2,"c":0.6},{"s":"46408","t":8.3,"o":1.4,"c":1.0},{"s":"46408","t":8.55,"o":-0.5,"c":-0.2},{"s":"46408","t":8.8,"o":0.8,"c":1.5},{"s":"46408","t":8.95,"o":-2.5,"c":-0.5},{"s":"46408","t":9.15,"o":1.8,"c":0.8},{"s":"46408","t":9.4,"o":-1.0,"c":-0.6},{"s":"46408","t":9.65,"o":1.6,"c":1.8},{"s":"46408","t":9.9,"o":-0.4,"c":-0.8},{"s":"46408","t":10.15,"o":0.8,"c":0.6},{"s":"46408","t":10.4,"o":-0.5,"c":-0.4},{"s":"46408","t":10.65,"o":1.2,"c":0.9},{"s":"46408","t":10.9,"o":0.2,"c":0.6},{"s":"46408","t":11.1,"o":-6.0,"c":-2.0},{"s":"46408","t":11.35,"o":-1.0,"c":-3.0},{"s":"46408","t":11.6,"o":1.8,"c":0.6},{"s":"46408","t":11.85,"o":-1.0,"c":-0.5},{"s":"46408","t":12.1,"o":1.2,"c":1.0},{"s":"46408","t":12.4,"o":-1.0,"c":-0.8},{"s":"46408","t":12.7,"o":1.4,"c":0.9},{"s":"46408","t":13.0,"o":-0.6,"c":-0.4},{"s":"46408","t":13.3,"o":0.8,"c":0.9},{"s":"46408","t":13.6,"o":-0.5,"c":-0.6},{"s":"46408","t":13.9,"o":1.0,"c":0.8},{"s":"46408","t":14.2,"o":-0.6,"c":-0.4},{"s":"46408","t":14.5,"o":0.8,"c":0.9},{"s":"46408","t":14.8,"o":-0.4,"c":-0.5},{"s":"46408","t":15.1,"o":0.9,"c":0.7},{"s":"46408","t":15.4,"o":-0.6,"c":-0.5},{"s":"46408","t":15.7,"o":1.2,"c":0.9},{"s":"46408","t":16,"o":0.3,"c":0.4},
{"s":"46411","t":0,"o":0,"c":0},{"s":"46411","t":2,"o":0,"c":0.1},{"s":"46411","t":4,"o":0.1,"c":0},{"s":"46411","t":6,"o":0,"c":0.1},{"s":"46411","t":7.2,"o":0,"c":0},{"s":"46411","t":7.45,"o":1.8,"c":1.2},{"s":"46411","t":7.7,"o":-1.2,"c":-0.8},{"s":"46411","t":7.95,"o":1.0,"c":0.6},{"s":"46411","t":8.2,"o":-0.4,"c":-0.2},{"s":"46411","t":8.45,"o":1.5,"c":1.1},{"s":"46411","t":8.7,"o":0.2,"c":0.8},{"s":"46411","t":8.95,"o":1.4,"c":0.8},{"s":"46411","t":9.2,"o":-0.6,"c":-0.3},{"s":"46411","t":9.45,"o":1.0,"c":1.2},{"s":"46411","t":9.7,"o":-1.0,"c":-0.6},{"s":"46411","t":9.95,"o":1.6,"c":1.0},{"s":"46411","t":10.2,"o":0.0,"c":0.6},{"s":"46411","t":10.45,"o":1.3,"c":0.8},{"s":"46411","t":10.7,"o":-0.5,"c":-0.3},{"s":"46411","t":10.95,"o":1.5,"c":1.2},{"s":"46411","t":11.2,"o":-4.5,"c":-1.5},{"s":"46411","t":11.45,"o":-1.5,"c":-3.0},{"s":"46411","t":11.7,"o":1.2,"c":0.5},{"s":"46411","t":11.95,"o":-0.5,"c":-0.8},{"s":"46411","t":12.2,"o":2.8,"c":1.2},{"s":"46411","t":12.45,"o":0.5,"c":2.0},{"s":"46411","t":12.7,"o":-3.5,"c":-1.5},{"s":"46411","t":12.95,"o":-0.5,"c":-2.0},{"s":"46411","t":13.2,"o":2.0,"c":1.0},{"s":"46411","t":13.45,"o":-0.5,"c":0.3},{"s":"46411","t":13.7,"o":1.0,"c":0.8},{"s":"46411","t":14.0,"o":-0.6,"c":-0.5},{"s":"46411","t":14.3,"o":0.8,"c":0.7},{"s":"46411","t":14.6,"o":-0.5,"c":-0.6},{"s":"46411","t":14.9,"o":0.9,"c":0.8},{"s":"46411","t":15.2,"o":-0.4,"c":-0.5},{"s":"46411","t":15.5,"o":0.8,"c":0.6},{"s":"46411","t":15.8,"o":-0.3,"c":-0.4},{"s":"46411","t":16,"o":0.4,"c":0.3},
{"s":"46415","t":0,"o":0,"c":0},{"s":"46415","t":2,"o":0.1,"c":0},{"s":"46415","t":4,"o":0,"c":0.1},{"s":"46415","t":6,"o":0.1,"c":0},{"s":"46415","t":7.4,"o":0,"c":0},{"s":"46415","t":7.65,"o":1.2,"c":0.8},{"s":"46415","t":7.9,"o":-0.5,"c":-0.3},{"s":"46415","t":8.15,"o":0.8,"c":0.5},{"s":"46415","t":8.4,"o":-0.3,"c":-0.1},{"s":"46415","t":8.65,"o":1.4,"c":1.0},{"s":"46415","t":8.9,"o":0.2,"c":0.6},{"s":"46415","t":9.15,"o":1.2,"c":0.8},{"s":"46415","t":9.4,"o":-0.5,"c":-0.3},{"s":"46415","t":9.65,"o":1.0,"c":1.2},{"s":"46415","t":9.9,"o":-0.8,"c":-0.5},{"s":"46415","t":10.15,"o":1.4,"c":1.0},{"s":"46415","t":10.4,"o":-0.6,"c":-0.2},{"s":"46415","t":10.65,"o":1.5,"c":1.2},{"s":"46415","t":10.9,"o":-0.8,"c":-0.5},{"s":"46415","t":11.15,"o":2.0,"c":1.2},{"s":"46415","t":11.4,"o":-0.8,"c":0.3},{"s":"46415","t":11.65,"o":1.6,"c":1.0},{"s":"46415","t":11.9,"o":-1.2,"c":-0.6},{"s":"46415","t":12.15,"o":1.0,"c":1.4},{"s":"46415","t":12.4,"o":-0.4,"c":-0.8},{"s":"46415","t":12.65,"o":2.2,"c":1.0},{"s":"46415","t":12.9,"o":-0.6,"c":0.3},{"s":"46415","t":13.15,"o":1.5,"c":1.2},{"s":"46415","t":13.45,"o":-1.0,"c":-0.6},{"s":"46415","t":13.75,"o":0.9,"c":0.8},{"s":"46415","t":14.05,"o":-0.5,"c":-0.6},{"s":"46415","t":14.35,"o":1.0,"c":0.8},{"s":"46415","t":14.65,"o":-0.6,"c":-0.4},{"s":"46415","t":14.95,"o":0.8,"c":0.9},{"s":"46415","t":15.25,"o":-0.4,"c":-0.5},{"s":"46415","t":15.55,"o":1.4,"c":1.0},{"s":"46415","t":15.8,"o":-0.6,"c":-0.4},{"s":"46415","t":16,"o":0.3,"c":0.2},
{"s":"43412","t":0,"o":0,"c":0},{"s":"43412","t":2,"o":0,"c":0.1},{"s":"43412","t":4,"o":0.1,"c":0},{"s":"43412","t":6,"o":0,"c":0.1},{"s":"43412","t":7.45,"o":0,"c":0},{"s":"43412","t":7.62,"o":1.5,"c":1.0},{"s":"43412","t":7.8,"o":-0.6,"c":-0.3},{"s":"43412","t":8.05,"o":0.3,"c":0.2},{"s":"43412","t":8.35,"o":-0.3,"c":-0.2},{"s":"43412","t":8.65,"o":0.6,"c":0.4},{"s":"43412","t":8.95,"o":-0.2,"c":0.1},{"s":"43412","t":9.2,"o":1.2,"c":0.8},{"s":"43412","t":9.45,"o":-0.4,"c":-0.2},{"s":"43412","t":9.7,"o":1.6,"c":1.2},{"s":"43412","t":9.95,"o":0.0,"c":0.8},{"s":"43412","t":10.2,"o":1.4,"c":0.6},{"s":"43412","t":10.45,"o":-0.6,"c":-0.3},{"s":"43412","t":10.7,"o":1.8,"c":1.2},{"s":"43412","t":10.95,"o":0.2,"c":0.8},{"s":"43412","t":11.2,"o":1.5,"c":0.6},{"s":"43412","t":11.45,"o":-1.0,"c":-0.5},{"s":"43412","t":11.7,"o":2.0,"c":1.2},{"s":"43412","t":11.95,"o":-0.5,"c":0.5},{"s":"43412","t":12.2,"o":1.2,"c":1.8},{"s":"43412","t":12.4,"o":4.5,"c":1.5},{"s":"43412","t":12.6,"o":0.5,"c":2.5},{"s":"43412","t":12.85,"o":-3.0,"c":-1.0},{"s":"43412","t":13.05,"o":-5.5,"c":-2.5},{"s":"43412","t":13.3,"o":-1.0,"c":-3.0},{"s":"43412","t":13.55,"o":2.5,"c":1.0},{"s":"43412","t":13.8,"o":-0.5,"c":0.6},{"s":"43412","t":14.05,"o":1.5,"c":0.8},{"s":"43412","t":14.3,"o":-0.8,"c":-0.5},{"s":"43412","t":14.55,"o":1.2,"c":1.0},{"s":"43412","t":14.8,"o":-0.5,"c":-0.6},{"s":"43412","t":15.05,"o":1.0,"c":0.8},{"s":"43412","t":15.3,"o":-0.4,"c":-0.6},{"s":"43412","t":15.55,"o":1.5,"c":1.0},{"s":"43412","t":15.8,"o":-0.6,"c":-0.4},{"s":"43412","t":16,"o":0.4,"c":0.3},
{"s":"32413","t":0,"o":0,"c":0},{"s":"32413","t":2,"o":0.1,"c":0},{"s":"32413","t":4,"o":0,"c":0.1},{"s":"32413","t":6,"o":0.1,"c":0},{"s":"32413","t":7.65,"o":0,"c":0},{"s":"32413","t":7.82,"o":1.5,"c":1.0},{"s":"32413","t":7.95,"o":3.0,"c":2.5},{"s":"32413","t":8.1,"o":0.5,"c":1.5},{"s":"32413","t":8.25,"o":-1.5,"c":-1.0},{"s":"32413","t":8.45,"o":-0.3,"c":-0.6},{"s":"32413","t":8.75,"o":0.3,"c":0.2},{"s":"32413","t":9.1,"o":-0.2,"c":-0.1},{"s":"32413","t":9.45,"o":0.4,"c":0.3},{"s":"32413","t":9.8,"o":-0.3,"c":-0.2},{"s":"32413","t":10.1,"o":0.8,"c":0.5},{"s":"32413","t":10.4,"o":-0.4,"c":-0.3},{"s":"32413","t":10.7,"o":1.2,"c":0.8},{"s":"32413","t":10.95,"o":-0.2,"c":0.4},{"s":"32413","t":11.2,"o":1.5,"c":0.8},{"s":"32413","t":11.45,"o":-0.8,"c":-0.4},{"s":"32413","t":11.7,"o":1.2,"c":1.0},{"s":"32413","t":11.95,"o":-0.5,"c":-0.3},{"s":"32413","t":12.2,"o":1.5,"c":1.0},{"s":"32413","t":12.45,"o":0.5,"c":1.2},{"s":"32413","t":12.7,"o":-8.0,"c":-2.5},{"s":"32413","t":12.95,"o":-2.0,"c":-5.0},{"s":"32413","t":13.2,"o":5.5,"c":0.5},{"s":"32413","t":13.4,"o":2.0,"c":3.0},{"s":"32413","t":13.65,"o":-1.5,"c":0.5},{"s":"32413","t":13.9,"o":1.5,"c":-1.0},{"s":"32413","t":14.15,"o":-0.5,"c":1.2},{"s":"32413","t":14.4,"o":2.0,"c":0.5},{"s":"32413","t":14.65,"o":-0.8,"c":-0.5},{"s":"32413","t":14.9,"o":1.5,"c":1.0},{"s":"32413","t":15.15,"o":-1.0,"c":-0.6},{"s":"32413","t":15.4,"o":1.8,"c":1.2},{"s":"32413","t":15.65,"o":-0.6,"c":-0.4},{"s":"32413","t":16,"o":0.5,"c":0.3},
{"s":"32404","t":0,"o":0,"c":0},{"s":"32404","t":2,"o":0,"c":0.1},{"s":"32404","t":4,"o":0.1,"c":0},{"s":"32404","t":6,"o":0,"c":0.1},{"s":"32404","t":8,"o":0.1,"c":0},{"s":"32404","t":8.5,"o":0,"c":0},{"s":"32404","t":8.68,"o":1.5,"c":1.0},{"s":"32404","t":8.82,"o":2.5,"c":2.0},{"s":"32404","t":8.98,"o":0.3,"c":1.0},{"s":"32404","t":9.15,"o":-1.5,"c":-1.0},{"s":"32404","t":9.35,"o":0.5,"c":-0.3},{"s":"32404","t":9.6,"o":1.0,"c":0.8},{"s":"32404","t":9.85,"o":-0.3,"c":0.2},{"s":"32404","t":10.1,"o":0.6,"c":0.5},{"s":"32404","t":10.4,"o":-0.2,"c":-0.1},{"s":"32404","t":10.7,"o":0.8,"c":0.6},{"s":"32404","t":11.0,"o":-0.4,"c":-0.2},{"s":"32404","t":11.3,"o":1.2,"c":0.8},{"s":"32404","t":11.6,"o":-0.3,"c":0.3},{"s":"32404","t":11.9,"o":1.6,"c":1.2},{"s":"32404","t":12.2,"o":-0.8,"c":-0.4},{"s":"32404","t":12.5,"o":1.8,"c":1.0},{"s":"32404","t":12.8,"o":0.4,"c":1.4},{"s":"32404","t":13.05,"o":2.2,"c":1.0},{"s":"32404","t":13.3,"o":-0.6,"c":0.4},{"s":"32404","t":13.55,"o":2.4,"c":1.6},{"s":"32404","t":13.8,"o":-0.5,"c":0.8},{"s":"32404","t":14.05,"o":-2.5,"c":-1.0},{"s":"32404","t":14.3,"o":-7.5,"c":-2.0},{"s":"32404","t":14.55,"o":-2.0,"c":-4.5},{"s":"32404","t":14.8,"o":3.5,"c":0.5},{"s":"32404","t":15.0,"o":-1.0,"c":2.5},{"s":"32404","t":15.2,"o":2.5,"c":-1.5},{"s":"32404","t":15.4,"o":-2.5,"c":1.5},{"s":"32404","t":15.6,"o":2.0,"c":-2.0},{"s":"32404","t":15.8,"o":-3.0,"c":1.0},{"s":"32404","t":16,"o":0.5,"c":-0.5},
{"s":"42409","t":0,"o":0,"c":0},{"s":"42409","t":2,"o":0.1,"c":0},{"s":"42409","t":4,"o":0,"c":0.1},{"s":"42409","t":6,"o":0.1,"c":0},{"s":"42409","t":8,"o":0,"c":0.1},{"s":"42409","t":9.2,"o":0,"c":0},{"s":"42409","t":9.35,"o":1.2,"c":0.8},{"s":"42409","t":9.48,"o":2.8,"c":2.4},{"s":"42409","t":9.62,"o":0.5,"c":1.2},{"s":"42409","t":9.78,"o":-2.5,"c":-2.0},{"s":"42409","t":9.95,"o":-0.8,"c":-1.2},{"s":"42409","t":10.2,"o":0.4,"c":0.2},{"s":"42409","t":10.6,"o":-0.2,"c":-0.1},{"s":"42409","t":11.2,"o":0.3,"c":0.2},{"s":"42409","t":12,"o":-0.1,"c":0},{"s":"42409","t":13,"o":0.2,"c":0.1},{"s":"42409","t":14,"o":-0.1,"c":0},{"s":"42409","t":15,"o":0.2,"c":0.1},{"s":"42409","t":16,"o":0,"c":0},
{"s":"_"}
]
},
"hconcat": [
{
"data": {"name": "a"},
"title": {"text": "A 大気圧観測データ", "anchor": "start", "fontSize": 17, "fontWeight": "bold", "font": "Noto Sans CJK JP", "color": "black", "dx": 7, "offset": 11},
"facet": {"row": {"field": "s", "type": "nominal", "sort": ["FUNA","RAR","HNR","XMAS","WAKE","KIP","MIDW","GUMO","DAV","MAJO","ADK","XPFO","COR","KDAK","PAYG","LCO","TEIG","_"], "header": {"labels": false, "title": null}}},
"spacing": {"row": 0},
"bounds": "flush",
"spec": {
"width": 201, "height": 15,
"layer": [
{"mark": {"type": "line", "strokeWidth": 2.4, "interpolate": "monotone"},
 "encoding": {
  "x": {"field": "t", "type": "quantitative", "scale": {"domain": [0, 16], "nice": false}, "title": "噴火からの経過時間 (時間)",
        "axis": {"orient": "top", "values": [0,1,2,3,4,5,6,7,8,9,10,11,12,13,14,15,16], "labelExpr": "datum.value % 4 === 0 ? datum.label : ''", "labelOverlap": false, "labelFlush": false, "tickSize": 4, "tickColor": "black", "domainColor": "black", "labelFontSize": 19, "labelFont": "DejaVu Sans", "labelColor": "black", "labelPadding": 1, "titleFontSize": 11.5, "titleFont": "Noto Sans CJK JP", "titleFontWeight": "normal", "titleColor": "#333", "titlePadding": 6, "grid": false}},
  "y": {"field": "o", "type": "quantitative", "scale": {"domain": [0.8, 6.8], "nice": false, "zero": false}, "axis": {"domain": true, "ticks": false, "labels": false, "grid": false, "title": null, "domainColor": "black", "domainWidth": 1.5}},
  "color": {"datum": "o", "scale": {"domain": ["o", "c"], "range": ["#a3a3a3", "#5e5e5e"]},
            "legend": {"orient": "none", "legendX": 445, "legendY": -71, "title": null, "symbolType": "stroke", "symbolSize": 169, "symbolStrokeWidth": 2, "labelFontSize": 12.5, "labelFont": "Noto Sans CJK JP", "labelColor": "#333", "labelOffset": 9, "rowPadding": 3, "labelExpr": "datum.label === 'o' ? '観測波形' : '計算波形'"}}
 }},
{"mark": {"type": "line", "strokeWidth": 1.2, "interpolate": "monotone"},
 "encoding": {
  "x": {"field": "t", "type": "quantitative", "title": "噴火からの経過時間 (時間)"},
  "y": {"field": "c", "type": "quantitative"},
  "color": {"datum": "c"}
 }},
{"transform": [{"filter": "datum.t === 0"}],
 "mark": {"type": "text", "align": "left", "baseline": "middle", "dx": 4, "fontSize": 9, "font": "DejaVu Sans", "color": "#222"},
 "encoding": {"x": {"datum": 16, "title": "噴火からの経過時間 (時間)"}, "y": {"datum": 0}, "text": {"field": "s"}}},
{"transform": [{"filter": "datum.s === 'FUNA' && datum.t === 0"}],
 "mark": {"type": "rule", "strokeWidth": 2, "color": "black"},
 "encoding": {"x": {"datum": 16.32, "title": "噴火からの経過時間 (時間)"}, "y": {"datum": 4.2}, "y2": {"datum": 6.2}}},
{"transform": [{"filter": "datum.s === 'FUNA' && datum.t === 0"}],
 "mark": {"type": "text", "align": "left", "baseline": "middle", "dx": 4, "fontSize": 14, "font": "DejaVu Sans", "color": "black"},
 "encoding": {"x": {"datum": 16.32, "title": "噴火からの経過時間 (時間)"}, "y": {"datum": 5.2}, "text": {"value": "2hPa"}}}
]
}
},
{
"data": {"name": "b"},
"title": {"text": "B 海底圧力計データ", "anchor": "start", "fontSize": 17, "fontWeight": "bold", "font": "Noto Sans CJK JP", "color": "black", "dx": 7, "offset": 11},
"facet": {"row": {"field": "s", "type": "nominal", "sort": ["51425","52406","52402","51407","21420","S6N21","S2N09","S6N08","KMC10","21419","46408","46411","46415","43412","32413","32404","42409","_"], "header": {"labels": false, "title": null}}},
"spacing": {"row": 0},
"bounds": "flush",
"spec": {
"width": 202, "height": 15,
"layer": [
{"mark": {"type": "line", "strokeWidth": 2.4, "interpolate": "monotone"},
 "encoding": {
  "x": {"field": "t", "type": "quantitative", "scale": {"domain": [0, 16], "nice": false}, "title": "噴火からの経過時間 (時間)",
        "axis": {"orient": "top", "values": [0,1,2,3,4,5,6,7,8,9,10,11,12,13,14,15,16], "labelExpr": "datum.value % 4 === 0 ? datum.label : ''", "labelOverlap": false, "labelFlush": false, "tickSize": 4, "tickColor": "black", "domainColor": "black", "labelFontSize": 19, "labelFont": "DejaVu Sans", "labelColor": "black", "labelPadding": 1, "titleFontSize": 11.5, "titleFont": "Noto Sans CJK JP", "titleFontWeight": "normal", "titleColor": "#333", "titlePadding": 6, "grid": false}},
  "y": {"field": "o", "type": "quantitative", "scale": {"domain": [1.2, 7.2], "nice": false, "zero": false}, "axis": {"domain": true, "ticks": false, "labels": false, "grid": false, "title": null, "domainColor": "black", "domainWidth": 1.5}},
  "color": {"datum": "o"}
 }},
{"mark": {"type": "line", "strokeWidth": 1.2, "interpolate": "monotone"},
 "encoding": {
  "x": {"field": "t", "type": "quantitative", "title": "噴火からの経過時間 (時間)"},
  "y": {"field": "c", "type": "quantitative"},
  "color": {"datum": "c"}
 }},
{"transform": [{"filter": "datum.t === 0"}],
 "mark": {"type": "text", "align": "left", "baseline": "middle", "dx": 4, "fontSize": 9, "font": "DejaVu Sans", "color": "#222"},
 "encoding": {"x": {"datum": 16, "title": "噴火からの経過時間 (時間)"}, "y": {"datum": 0}, "text": {"field": "s"}}},
{"transform": [{"filter": "datum.s === '51425' && datum.t === 0"}],
 "mark": {"type": "rule", "strokeWidth": 2, "color": "black"},
 "encoding": {"x": {"datum": 16.32, "title": "噴火からの経過時間 (時間)"}, "y": {"datum": 4.2}, "y2": {"datum": 6.2}}},
{"transform": [{"filter": "datum.s === '51425' && datum.t === 0"}],
 "mark": {"type": "text", "align": "left", "baseline": "middle", "dx": 4, "fontSize": 14, "font": "DejaVu Sans", "color": "black"},
 "encoding": {"x": {"datum": 16.32, "title": "噴火からの経過時間 (時間)"}, "y": {"datum": 5.2}, "text": {"value": "2hPa"}}}
]
}
}
]
}
